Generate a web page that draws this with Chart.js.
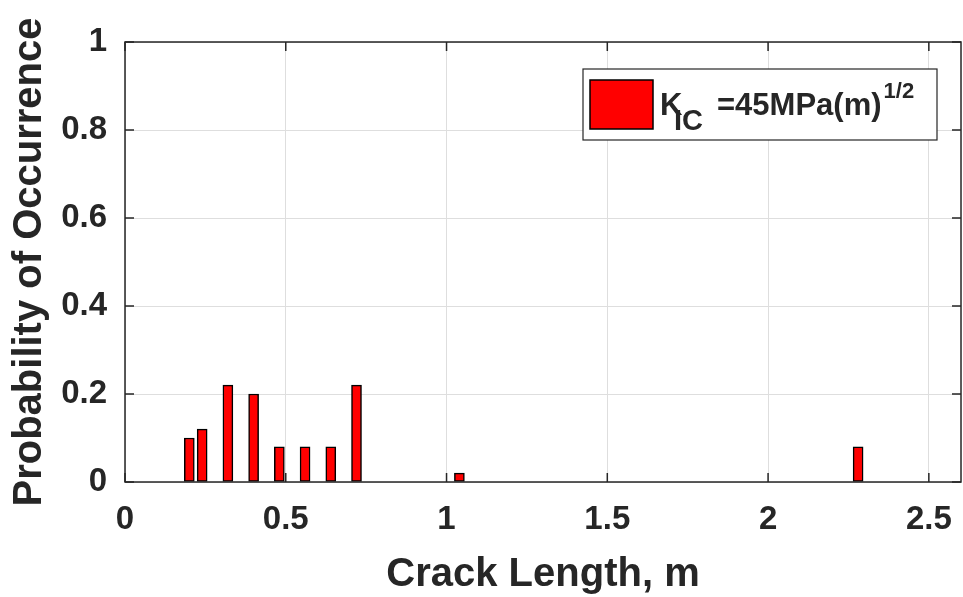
<!DOCTYPE html>
<html>
<head>
<meta charset="utf-8">
<script src="https://cdn.jsdelivr.net/npm/chart.js@4/dist/chart.umd.min.js"></script>
<style>
  html, body { margin: 0; padding: 0; background: #fff; }
  #wrap { width: 963px; height: 597px; }
</style>
</head>
<body>
<div id="wrap"><canvas id="crackChart" width="963" height="597"></canvas></div>
<script>
// crack length bins (m) and probability of occurrence
const crackLengths = [0.2, 0.24, 0.32, 0.4, 0.48, 0.56, 0.64, 0.72, 1.04, 2.28];
const probabilities = [0.1, 0.12, 0.22, 0.2, 0.08, 0.08, 0.08, 0.22, 0.02, 0.08];
const xTicks = [0, 0.5, 1, 1.5, 2, 2.5];
const yTicks = [0, 0.2, 0.4, 0.6, 0.8, 1];

const axisColor = '#262626';
const fontFamily = '"Liberation Sans", Arial, sans-serif';

// box, inward ticks and the legend with sub/superscripts
const boxPlugin = {
    id: 'boxPlugin',
    afterDraw(chart) {
        const c = chart.ctx;
        const a = chart.chartArea;
        const xs = chart.scales.x, ys = chart.scales.y;
        c.save();
        c.strokeStyle = axisColor;
        c.lineWidth = 1.5;
        c.strokeRect(a.left, a.top, a.right - a.left, a.bottom - a.top);
        c.beginPath();
        xTicks.forEach(v => {
            const px = xs.getPixelForValue(v);
            c.moveTo(px, a.bottom); c.lineTo(px, a.bottom - 9);
            c.moveTo(px, a.top); c.lineTo(px, a.top + 9);
        });
        yTicks.forEach(v => {
            const py = ys.getPixelForValue(v);
            c.moveTo(a.left, py); c.lineTo(a.left + 9, py);
            c.moveTo(a.right, py); c.lineTo(a.right - 9, py);
        });
        c.stroke();

        // legend
        const bx = a.right - 378, by = a.top + 27, bw = 354, bh = 71;
        c.fillStyle = '#fff';
        c.fillRect(bx, by, bw, bh);
        c.lineWidth = 1.2;
        c.strokeStyle = axisColor;
        c.strokeRect(bx, by, bw, bh);
        c.fillStyle = '#ff0000';
        c.fillRect(bx + 7, by + 11, 63, 49);
        c.lineWidth = 1.5;
        c.strokeStyle = '#000';
        c.strokeRect(bx + 7, by + 11, 63, 49);

        c.fillStyle = axisColor;
        c.textBaseline = 'alphabetic';
        c.textAlign = 'left';
        c.font = 'bold 31px ' + fontFamily;
        c.fillText('K', bx + 77, by + 46);
        c.font = 'bold 29px ' + fontFamily;
        c.fillText('IC', bx + 91, by + 61);
        c.font = 'bold 31px ' + fontFamily;
        c.fillText('=45MPa(m)', bx + 134, by + 46);
        const w = c.measureText('=45MPa(m)').width;
        c.font = 'bold 22px ' + fontFamily;
        c.fillText('1/2', bx + 134 + w + 2, by + 29);
        c.restore();
    }
};

const ctx = document.getElementById('crackChart').getContext('2d');
const crackChart = new Chart(ctx, {
    type: 'bar',
    data: {
        datasets: [{
            label: 'KIC =45MPa(m)1/2',
            data: crackLengths.map((x, i) => ({ x: x, y: probabilities[i] })),
            backgroundColor: '#ff0000',
            borderColor: '#000000',
            borderWidth: 1.5,
            borderSkipped: false,
            barThickness: 10
        }]
    },
    options: {
        responsive: false,
        animation: false,
        layout: { padding: { left: 0, top: 42, right: 2, bottom: 0 } },
        plugins: {
            legend: { display: false },
            tooltip: { enabled: false }
        },
        scales: {
            x: {
                type: 'linear',
                min: 0,
                max: 2.6,
                offset: false,
                afterBuildTicks: s => { s.ticks = xTicks.map(v => ({ value: v })); },
                afterFit: s => { s.height = 115; s.paddingLeft = 0; s.paddingRight = 0; },
                ticks: {
                    color: axisColor,
                    padding: 18,
                    maxRotation: 0,
                    font: { family: fontFamily, size: 33, weight: 'bold' },
                    callback: v => String(v)
                },
                grid: { color: '#dedede', lineWidth: 1, drawTicks: false, offset: false },
                border: { display: false },
                title: {
                    display: true,
                    text: 'Crack Length, m',
                    color: axisColor,
                    padding: { top: 0, bottom: -2 },
                    font: { family: fontFamily, size: 40, weight: 'bold' }
                }
            },
            y: {
                min: 0,
                max: 1,
                afterBuildTicks: s => { s.ticks = yTicks.map(v => ({ value: v })); },
                afterFit: s => { s.width = 125; },
                ticks: {
                    color: axisColor,
                    padding: 18,
                    font: { family: fontFamily, size: 33, weight: 'bold' },
                    callback: v => String(v)
                },
                grid: { color: '#dedede', lineWidth: 1, drawTicks: false },
                border: { display: false },
                title: {
                    display: true,
                    text: 'Probability of Occurrence',
                    color: axisColor,
                    padding: { top: 6, bottom: 0 },
                    font: { family: fontFamily, size: 40, weight: 'bold' }
                }
            }
        }
    },
    plugins: [boxPlugin]
});
</script>
</body>
</html>
